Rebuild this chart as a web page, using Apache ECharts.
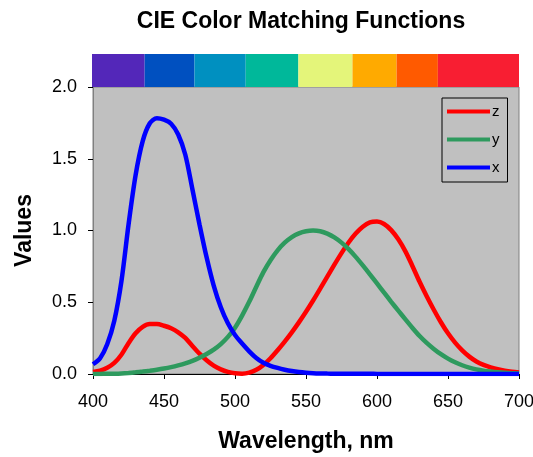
<!DOCTYPE html>
<html><head><meta charset="utf-8">
<script src="https://cdn.jsdelivr.net/npm/echarts@6/dist/echarts.min.js"></script>
<style>html,body{margin:0;padding:0;background:#fff}#c{width:533px;height:457px}</style>
</head><body><div id="c"></div>
<script>
var wavelengths = [400,405,410,415,420,425,430,435,440,445,450,455,460,465,470,475,480,485,490,495,500,505,510,515,520,525,530,535,540,545,550,555,560,565,570,575,580,585,590,595,600,605,610,615,620,625,630,635,640,645,650,655,660,665,670,675,680,685,690,695,700];
var seriesZ = [0.01431,0.02319,0.04351,0.07763,0.13438,0.21477,0.2839,0.3285,0.34828,0.34806,0.3362,0.3187,0.2908,0.2511,0.19536,0.1421,0.09564,0.05795,0.03201,0.0147,0.0049,0.0024,0.0093,0.0291,0.06327,0.1096,0.1655,0.22575,0.2904,0.3597,0.43345,0.51205,0.5945,0.6784,0.7621,0.8425,0.9163,0.9786,1.0263,1.0567,1.0622,1.0456,1.0026,0.9384,0.85445,0.7514,0.6424,0.5419,0.4479,0.3608,0.2835,0.2187,0.1649,0.1212,0.0874,0.0636,0.04677,0.0329,0.0227,0.01584,0.011359];
var seriesY = [0.000396,0.00064,0.00121,0.00218,0.004,0.0073,0.0116,0.01684,0.023,0.0298,0.038,0.048,0.06,0.0739,0.09098,0.1126,0.13902,0.1693,0.20802,0.2586,0.323,0.4073,0.503,0.6082,0.71,0.7932,0.862,0.91485,0.954,0.9803,0.99495,1.0,0.995,0.9786,0.952,0.9154,0.87,0.8163,0.757,0.6949,0.631,0.5668,0.503,0.4412,0.381,0.321,0.265,0.217,0.175,0.1382,0.107,0.0816,0.061,0.04458,0.032,0.0232,0.017,0.01192,0.00821,0.005723,0.004102];
var seriesX = [0.06785,0.1102,0.2074,0.3713,0.6456,1.03905,1.3856,1.62296,1.74706,1.7826,1.77211,1.7441,1.6692,1.5281,1.28764,1.0419,0.81295,0.6162,0.46518,0.3533,0.272,0.2123,0.1582,0.1117,0.07825,0.05725,0.04216,0.02984,0.0203,0.0134,0.00875,0.00575,0.0039,0.00275,0.0021,0.0018,0.00165,0.0014,0.0011,0.001,0.0008,0.0006,0.00034,0.00024,0.00019,0.0001,0.00005,0.00003,0.00002,0.00001,0,0,0,0,0,0,0,0,0,0,0];
var bandStarts = [400,437,472,508,545,583,614,643];
var bandEnds   = [437,472,508,545,583,614,643,700];
var bandColors = ['#5327B9','#0050C0','#0090C0','#00B89A','#E4F57A','#FFAA00','#FF5A00','#F81E32'];
var seriesNames = ['z','y','x'];
var seriesColors = ['#FF0000','#2E9A5E','#0000FF'];
var xTicks = {min:400,max:700,interval:50};
var yTicks = {min:0,max:2,interval:0.5};

function pairs(arr){ return wavelengths.map(function(w,i){return [w,arr[i]];}); }
var FONT = 'Liberation Sans, Arial, sans-serif';
var chart = echarts.init(document.getElementById('c'), null, {renderer:'canvas'});
var lineData = [seriesZ, seriesY, seriesX];
var series = lineData.map(function(d,i){
  return {name:seriesNames[i], type:'line', xAxisIndex:0, yAxisIndex:0, data:pairs(d), smooth:0.3,
    symbol:'none', lineStyle:{width:4.5,color:seriesColors[i]}, itemStyle:{color:seriesColors[i]}, z:2+i};
});
series.push({type:'custom', xAxisIndex:1, yAxisIndex:1, silent:true,
  data: bandStarts.map(function(s,i){return [s,bandEnds[i],i];}),
  renderItem:function(params,api){
    var p0 = api.coord([api.value(0),1]);
    var p1 = api.coord([api.value(1),0]);
    return {type:'rect', shape:{x:p0[0],y:p0[1],width:p1[0]-p0[0],height:p1[1]-p0[1]},
      style:{fill:bandColors[api.value(2)]}};
  }});
chart.setOption({
  animation:false,
  backgroundColor:'#fff',
  title:{text:'CIE Color Matching Functions', left:296, textAlign:'center', top:5,
    textStyle:{fontFamily:FONT,fontSize:23,fontWeight:'bold',color:'#000'}},
  legend:{data:seriesNames, orient:'vertical', left:442, top:98, icon:'rect', itemWidth:43, itemHeight:4,
    itemGap:13, padding:[6,8,7,5], borderColor:'#000', borderWidth:1, backgroundColor:'#c0c0c0',
    textStyle:{fontFamily:FONT,fontSize:15,color:'#000',padding:[0,0,0,-3]}},
  grid:[
    {left:93,right:14,top:87,bottom:83,show:true,backgroundColor:'#c0c0c0',borderColor:'#808080',borderWidth:1,
     containLabel:false,outerBoundsMode:'none'},
    {left:92,right:14,top:54,height:33,containLabel:false,outerBoundsMode:'none'}
  ],
  xAxis:[
    {type:'value',gridIndex:0,min:xTicks.min,max:xTicks.max,interval:xTicks.interval,
     name:'Wavelength, nm',nameLocation:'middle',nameGap:56,
     nameTextStyle:{fontFamily:FONT,fontSize:23,fontWeight:'bold',color:'#000'},
     axisLine:{lineStyle:{color:'#000',width:1}}, axisTick:{show:true,length:5,lineStyle:{color:'#000'}},
     axisLabel:{fontFamily:FONT,fontSize:18,color:'#000',margin:19,hideOverlap:false}, splitLine:{show:false}},
    {type:'value',gridIndex:1,min:400,max:700,show:false}
  ],
  yAxis:[
    {type:'value',gridIndex:0,min:yTicks.min,max:yTicks.max,interval:yTicks.interval,
     name:'Values',nameLocation:'middle',nameGap:57,
     nameTextStyle:{fontFamily:FONT,fontSize:23,fontWeight:'bold',color:'#000'},
     axisLine:{show:true,lineStyle:{color:'#808080',width:1}}, axisTick:{show:true,length:5,lineStyle:{color:'#000'}},
     axisLabel:{fontFamily:FONT,fontSize:18,color:'#000',margin:16,formatter:function(v){return v.toFixed(1);}},
     splitLine:{show:false}},
    {type:'value',gridIndex:1,min:0,max:1,show:false}
  ],
  series:series
});
</script></body></html>
